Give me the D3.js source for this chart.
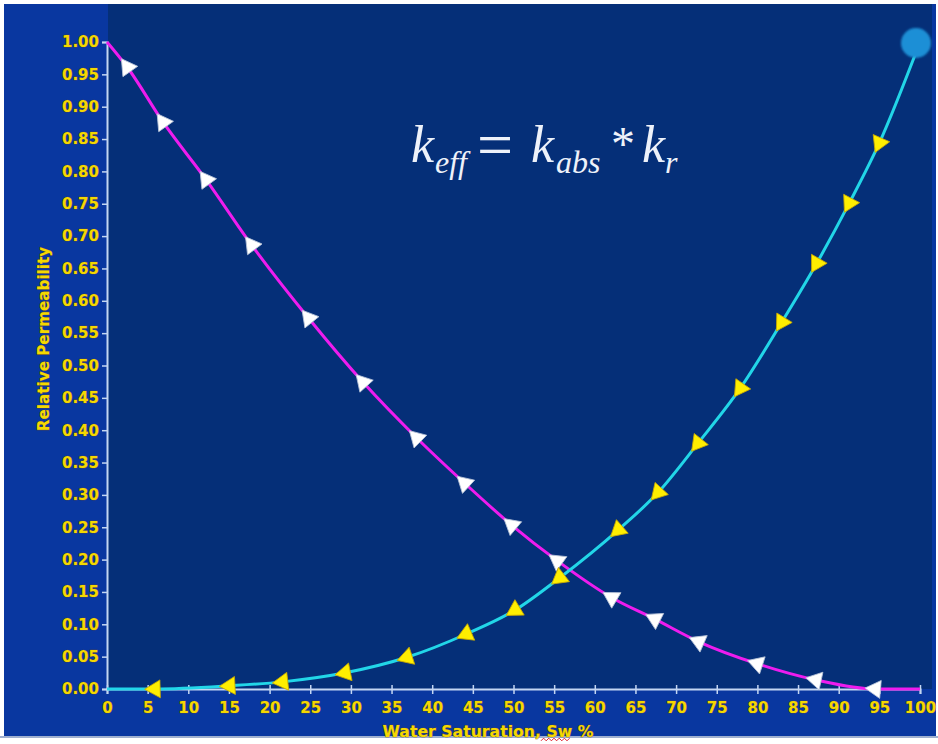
<!DOCTYPE html>
<html>
<head>
<meta charset="utf-8">
<script src="https://cdn.jsdelivr.net/npm/d3@7/dist/d3.min.js"></script>
<style>
  html, body { margin: 0; padding: 0; background: #ffffff; }
  svg { display: block; }
</style>
</head>
<body>
<svg id="chart" width="938" height="744"></svg>
<script>
// ---- Data ----
// Water relative permeability (krw) vs water saturation
const waterSat = [0, 5.9, 15.1, 21.6, 29.3, 36.9, 44.2, 50.2, 55.7, 62.9, 67.8, 72.7, 77.9, 83.0, 87.3, 91.3, 95.0, 100];
const krw      = [0, 0.0, 0.005, 0.011, 0.025, 0.049, 0.085, 0.122, 0.172, 0.246, 0.304, 0.380, 0.465, 0.567, 0.658, 0.751, 0.844, 1.0];
// Oil relative permeability (kro) vs water saturation
const oilSat   = [0, 2.5, 6.9, 12.2, 17.8, 24.8, 31.5, 38.1, 44.0, 49.8, 55.4, 62.1, 67.4, 72.8, 80.0, 87.2, 94.5, 100];
const kro      = [1.0, 0.961, 0.876, 0.787, 0.686, 0.573, 0.474, 0.388, 0.318, 0.253, 0.198, 0.141, 0.108, 0.073, 0.039, 0.014, 0.0, 0.0];
// Tick values
const xTicks = [0, 5, 10, 15, 20, 25, 30, 35, 40, 45, 50, 55, 60, 65, 70, 75, 80, 85, 90, 95, 100];
const yTicks = [0, 0.05, 0.10, 0.15, 0.20, 0.25, 0.30, 0.35, 0.40, 0.45, 0.50, 0.55, 0.60, 0.65, 0.70, 0.75, 0.80, 0.85, 0.90, 0.95, 1.00];
const xTitle = "Water Saturation, Sw %";
const yTitle = "Relative Permeability";

// ---- Layout ----
const svg = d3.select("#chart");
const W = 938, H = 744;
const x = d3.scaleLinear().domain([0, 100]).range([107, 920]);
const y = d3.scaleLinear().domain([0, 1]).range([689, 42]);

const YELLOW = "#f4d800";
const AXIS = "#c4d6f2";
const FONT = "DejaVu Sans, Verdana, sans-serif";

// background
svg.append("rect").attr("x", 0).attr("y", 0).attr("width", W).attr("height", H).attr("fill", "#ffffff");
svg.append("rect").attr("x", 4).attr("y", 4).attr("width", 932).attr("height", 732).attr("fill", "#0937a0");
svg.append("rect").attr("x", 108).attr("y", 4).attr("width", 824).attr("height", 685).attr("fill", "#052f78");
svg.append("rect").attr("x", 0).attr("y", 736).attr("width", W).attr("height", 2).attr("fill", "#9fb0d0");

const defs = svg.append("defs");
defs.append("filter").attr("id", "soft").append("feGaussianBlur").attr("stdDeviation", 1.2);

// ---- Axes ----
const yAxis = d3.axisLeft(y).tickValues(yTicks).tickFormat(d3.format(".2f")).tickSize(5).tickPadding(3);
const gy = svg.append("g").attr("transform", `translate(${x(0)},0)`).call(yAxis);
const xAxis = d3.axisBottom(x).tickValues(xTicks).tickFormat(d3.format("d")).tickSize(5).tickPadding(8);
const gx = svg.append("g").attr("transform", `translate(0,${y(0)})`).call(xAxis);

[gx, gy].forEach(g => {
  g.select(".domain").attr("stroke", AXIS).attr("stroke-width", 2);
  g.selectAll(".tick line").attr("stroke", AXIS).attr("stroke-width", 1.5);
  g.selectAll(".tick text")
    .attr("fill", YELLOW)
    .attr("font-family", FONT)
    .attr("font-weight", "bold")
    .attr("font-size", "15px")
    .attr("stroke", "#6b4a1a").attr("stroke-width", 0.7).attr("paint-order", "stroke");
});
gx.selectAll(".tick line").attr("y1", -4).attr("y2", 5);
gx.selectAll(".tick text").attr("dy", "0.75em");

// axis titles
svg.append("text")
  .attr("x", 488).attr("y", 737)
  .attr("text-anchor", "middle")
  .attr("fill", YELLOW)
  .attr("font-family", FONT)
  .attr("font-weight", "bold").attr("font-size", "15.7px")
  .attr("stroke", "#6b4a1a").attr("stroke-width", 0.7).attr("paint-order", "stroke")
  .text(xTitle);
// red spell-check squiggle under "Sw"
(function () {
  const pts = [];
  for (let i = 0; i <= 11; i++) pts.push([541 + i * 2.6, 739.5 + (i % 2 ? -1.3 : 1.3)]);
  svg.append("path").attr("d", d3.line()(pts)).attr("fill", "none").attr("stroke", "#e0202a").attr("stroke-width", 1);
})();

svg.append("text")
  .attr("transform", "translate(49,339) rotate(-90)")
  .attr("text-anchor", "middle")
  .attr("fill", YELLOW)
  .attr("font-family", FONT)
  .attr("font-weight", "bold").attr("font-size", "15.2px")
  .attr("stroke", "#6b4a1a").attr("stroke-width", 0.6).attr("paint-order", "stroke")
  .text(yTitle);

// ---- Curves ----
const waterPts = waterSat.map((s, i) => [s, krw[i]]);
const oilPts = oilSat.map((s, i) => [s, kro[i]]);
const line = d3.line().x(d => x(d[0])).y(d => y(d[1])).curve(d3.curveMonotoneX);

svg.append("path").attr("d", line(oilPts)).attr("fill", "none").attr("stroke", "#ee1cee").attr("stroke-width", 3);
svg.append("path").attr("d", line(waterPts)).attr("fill", "none").attr("stroke", "#22d6e8").attr("stroke-width", 3);

// triangle markers pointing back along the curve
function markers(pts, fill, stroke, skipFirst, skipLast) {
  const tri = d3.symbol().type(d3.symbolTriangle).size(140);
  const idx = d3.range(pts.length).filter(i => !(skipFirst && i === 0) && !(skipLast && i === pts.length - 1));
  svg.append("g").selectAll("path").data(idx).join("path")
    .attr("d", tri())
    .attr("fill", fill).attr("stroke", stroke).attr("stroke-width", 0.8)
    .attr("transform", i => {
      const a = pts[Math.max(0, i - 1)], b = pts[Math.min(pts.length - 1, i + 1)];
      const ang = Math.atan2(y(b[1]) - y(a[1]), x(b[0]) - x(a[0])) * 180 / Math.PI;
      return `translate(${x(pts[i][0])},${y(pts[i][1])}) rotate(${ang - 90})`;
    });
}
markers(oilPts, "#ffffff", "#b8c4d8", true, true);
markers(waterPts, "#ffee00", "#c8a800", true, true);

// end-point circle of the water curve
const lastW = waterPts[waterPts.length - 1];
svg.append("circle").attr("cx", x(lastW[0]) - 4).attr("cy", y(lastW[1]) + 1).attr("r", 15)
  .attr("fill", "#1f8fd6").attr("filter", "url(#soft)");

// ---- Formula ----
const fg = svg.append("g").attr("fill", "#eef2fa").attr("font-family", "Liberation Serif, Times New Roman, serif");
const parts = [
  { t: "k", x: 411, y: 162, s: 52 },
  { t: "eff", x: 435, y: 173, s: 32 },
  { t: "=", x: 477, y: 166, s: 64, upright: true },
  { t: "k", x: 531, y: 162, s: 52 },
  { t: "abs", x: 556, y: 173, s: 32 },
  { t: "*", x: 611, y: 160, s: 48, upright: true },
  { t: "k", x: 642, y: 162, s: 52 },
  { t: "r", x: 665, y: 173, s: 32 }
];
fg.selectAll("text").data(parts).join("text")
  .attr("x", d => d.x).attr("y", d => d.y)
  .attr("font-size", d => d.s + "px")
  .attr("font-style", d => d.upright ? "normal" : "italic")
  .text(d => d.t);
</script>
</body>
</html>
